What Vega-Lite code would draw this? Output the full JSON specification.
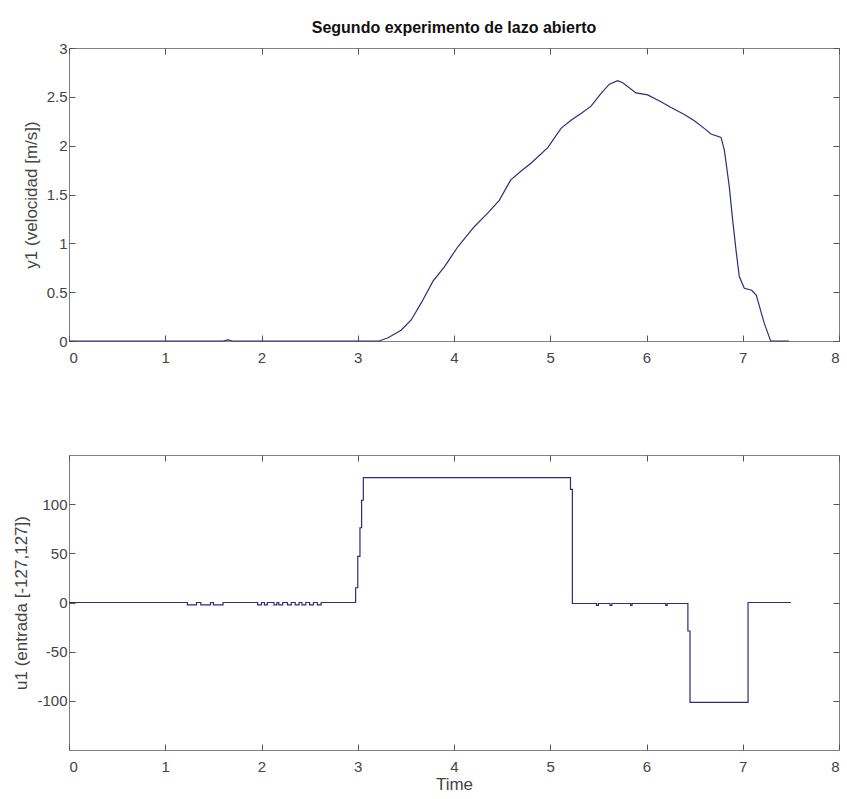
{
  "$schema": "https://vega.github.io/schema/vega-lite/v6.json",
  "background": "white",
  "padding": {"left": 12, "top": 19, "right": 5, "bottom": 5},
  "datasets": {
    "y1": [
      {"t": 0, "v": 0}, {"t": 1.6, "v": 0}, {"t": 1.65, "v": 0.012}, {"t": 1.7, "v": 0},
      {"t": 3.22, "v": 0}, {"t": 3.31, "v": 0.03}, {"t": 3.45, "v": 0.11}, {"t": 3.555, "v": 0.215},
      {"t": 3.66, "v": 0.39}, {"t": 3.78, "v": 0.61}, {"t": 3.9, "v": 0.76}, {"t": 4.04, "v": 0.965},
      {"t": 4.21, "v": 1.17}, {"t": 4.35, "v": 1.31}, {"t": 4.47, "v": 1.44}, {"t": 4.59, "v": 1.65},
      {"t": 4.71, "v": 1.75}, {"t": 4.8, "v": 1.82}, {"t": 4.974, "v": 1.98}, {"t": 5.112, "v": 2.177},
      {"t": 5.216, "v": 2.26}, {"t": 5.32, "v": 2.33}, {"t": 5.424, "v": 2.405}, {"t": 5.528, "v": 2.535},
      {"t": 5.614, "v": 2.63}, {"t": 5.7, "v": 2.665}, {"t": 5.753, "v": 2.645}, {"t": 5.891, "v": 2.54},
      {"t": 6.012, "v": 2.52}, {"t": 6.15, "v": 2.45}, {"t": 6.255, "v": 2.39}, {"t": 6.393, "v": 2.32},
      {"t": 6.497, "v": 2.255}, {"t": 6.6, "v": 2.177}, {"t": 6.67, "v": 2.12}, {"t": 6.774, "v": 2.085},
      {"t": 6.809, "v": 1.955}, {"t": 6.86, "v": 1.58}, {"t": 6.895, "v": 1.24}, {"t": 6.93, "v": 0.93},
      {"t": 6.964, "v": 0.66}, {"t": 7.016, "v": 0.54}, {"t": 7.092, "v": 0.52}, {"t": 7.14, "v": 0.47},
      {"t": 7.224, "v": 0.18}, {"t": 7.29, "v": 0}, {"t": 7.48, "v": 0}
    ],
    "u1": [
      {"t": 0, "u": 0}, {"t": 1.23, "u": -2.5}, {"t": 1.325, "u": 0}, {"t": 1.37, "u": -2.5},
      {"t": 1.47, "u": 0}, {"t": 1.5, "u": -2.5}, {"t": 1.6, "u": 0},
      {"t": 1.96, "u": -2.5}, {"t": 2.0, "u": 0}, {"t": 2.03, "u": -2.5}, {"t": 2.06, "u": 0},
      {"t": 2.13, "u": -2.5}, {"t": 2.16, "u": 0}, {"t": 2.18, "u": -2.5}, {"t": 2.22, "u": 0},
      {"t": 2.27, "u": -2.5}, {"t": 2.31, "u": 0}, {"t": 2.35, "u": -2.5}, {"t": 2.39, "u": 0},
      {"t": 2.42, "u": -2.5}, {"t": 2.46, "u": 0}, {"t": 2.5, "u": -2.5}, {"t": 2.54, "u": 0},
      {"t": 2.58, "u": -2.5}, {"t": 2.62, "u": 0},
      {"t": 2.978, "u": 15}, {"t": 3.0, "u": 47}, {"t": 3.023, "u": 76}, {"t": 3.04, "u": 104},
      {"t": 3.058, "u": 127}, {"t": 5.21, "u": 115}, {"t": 5.23, "u": -1},
      {"t": 5.48, "u": -3}, {"t": 5.5, "u": -1}, {"t": 5.62, "u": -3}, {"t": 5.64, "u": -1},
      {"t": 5.835, "u": -3}, {"t": 5.85, "u": -1}, {"t": 6.2, "u": -3}, {"t": 6.215, "u": -1},
      {"t": 6.43, "u": -29}, {"t": 6.452, "u": -101.6}, {"t": 7.055, "u": 0}, {"t": 7.5, "u": 0}
    ]
  },
  "config": {
    "font": "Liberation Sans",
    "view": {"stroke": "#808080", "strokeWidth": 1},
    "axis": {
      "grid": false, "domain": false, "tickSize": -6, "tickColor": "#555555", "tickWidth": 1,
      "labelColor": "#444444", "labelFontSize": 15, "labelFont": "Liberation Sans",
      "titleFontSize": 17, "titleFontWeight": "normal", "titleColor": "#444444", "titleFont": "Liberation Sans"
    }
  },
  "spacing": 88,
  "vconcat": [
    {
      "width": 770, "height": 293,
      "title": {"text": "Segundo experimento de lazo abierto", "fontSize": 16, "fontWeight": "bold", "anchor": "middle", "frame": "group", "offset": 5, "color": "#111111", "font": "Liberation Sans"},
      "data": {"name": "y1"},
      "layer": [
        {
          "mark": {"type": "line", "color": "#2d2d7a", "strokeWidth": 1.2},
          "encoding": {
            "x": {"field": "t", "type": "quantitative", "scale": {"domain": [0, 8], "nice": false},
                  "axis": {"orient": "bottom", "values": [0,1,2,3,4,5,6,7,8], "labelExpr": "'' + datum.value", "title": null, "labelPadding": 15}},
            "y": {"field": "v", "type": "quantitative", "scale": {"domain": [0, 3], "nice": false},
                  "axis": {"orient": "left", "values": [0,0.5,1,1.5,2,2.5,3], "labelExpr": "'' + datum.value", "title": "y1 (velocidad [m/s])", "labelPadding": 8, "titlePadding": 6}}
          }
        },
        {
          "mark": {"type": "line", "opacity": 0},
          "encoding": {
            "x": {"field": "t", "type": "quantitative", "axis": {"orient": "top", "values": [0,1,2,3,4,5,6,7,8], "labels": false, "title": null}},
            "y": {"field": "v", "type": "quantitative", "axis": {"orient": "right", "values": [0,0.5,1,1.5,2,2.5,3], "labels": false, "title": null}}
          }
        }
      ],
      "resolve": {"axis": {"x": "independent", "y": "independent"}}
    },
    {
      "width": 770, "height": 295,
      "data": {"name": "u1"},
      "layer": [
        {
          "mark": {"type": "line", "color": "#2d2d7a", "strokeWidth": 1.2, "interpolate": "step-after"},
          "encoding": {
            "x": {"field": "t", "type": "quantitative", "scale": {"domain": [0, 8], "nice": false},
                  "axis": {"orient": "bottom", "values": [0,1,2,3,4,5,6,7,8], "labelExpr": "'' + datum.value", "title": "Time", "labelPadding": 15, "titlePadding": 2}},
            "y": {"field": "u", "type": "quantitative", "scale": {"domain": [-150, 150], "nice": false},
                  "axis": {"orient": "left", "values": [-100,-50,0,50,100], "labelExpr": "'' + datum.value", "title": "u1 (entrada [-127,127])", "labelPadding": 8, "titlePadding": 6}}
          }
        },
        {
          "mark": {"type": "line", "opacity": 0, "interpolate": "step-after"},
          "encoding": {
            "x": {"field": "t", "type": "quantitative", "axis": {"orient": "top", "values": [0,1,2,3,4,5,6,7,8], "labels": false, "title": null}},
            "y": {"field": "u", "type": "quantitative", "axis": {"orient": "right", "values": [-100,-50,0,50,100], "labels": false, "title": null}}
          }
        }
      ],
      "resolve": {"axis": {"x": "independent", "y": "independent"}}
    }
  ]
}
